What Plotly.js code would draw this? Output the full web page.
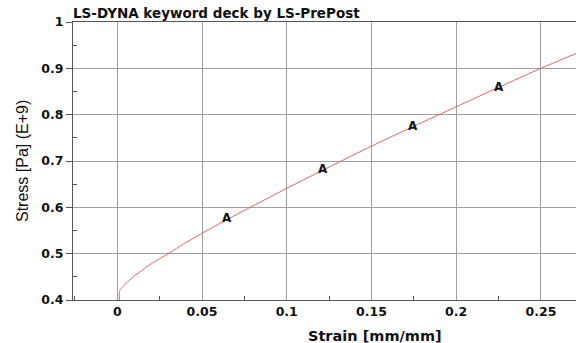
<!DOCTYPE html>
<html>
<head>
<meta charset="utf-8">
<script src="https://cdn.plot.ly/plotly-3.0.1.min.js"></script>
<style>html,body{margin:0;padding:0;background:#fff;}#chart{width:576px;height:343px;}</style>
</head>
<body>
<div id="chart"></div>
<script>
// Curve: strain [mm/mm] vs stress [Pa] (E+9)
const strain = [0.0012, 0.0012, 0.0016, 0.003, 0.005, 0.0094, 0.015, 0.02, 0.03, 0.04, 0.05, 0.065, 0.08, 0.1, 0.125, 0.15, 0.175, 0.2, 0.225, 0.25, 0.2707];
const stress = [0.400, 0.415, 0.422, 0.428, 0.435, 0.450, 0.465, 0.478, 0.500, 0.523, 0.544, 0.574, 0.603, 0.641, 0.687, 0.732, 0.775, 0.817, 0.859, 0.900, 0.932];

// "A" curve label positions
const labelStrain = [0.065, 0.1216, 0.1747, 0.2255];
const labelStress = [0.577, 0.683, 0.7756, 0.860];
const labelText = ["A", "A", "A", "A"];

const xTickVals = [0, 0.05, 0.1, 0.15, 0.2, 0.25];
const xTickText = ["0", "0.05", "0.1", "0.15", "0.2", "0.25"];
const yTickVals = [0.4, 0.5, 0.6, 0.7, 0.8, 0.9, 1];
const yTickText = ["0.4", "0.5", "0.6", "0.7", "0.8", "0.9", "1"];

const boldFont = {family: "DejaVu Sans", size: 12.5, color: "#111", weight: "bold"};

const trace = {
  x: strain, y: stress, type: "scatter", mode: "lines",
  line: {color: "rgb(222,100,100)", width: 1, shape: "spline", smoothing: 0.5},
  hoverinfo: "skip", showlegend: false
};

const annotations = labelText.map((t, i) => ({
  x: labelStrain[i], y: labelStress[i], xref: "x", yref: "y",
  text: "<b>" + t + "</b>", showarrow: false,
  font: {family: "DejaVu Sans", size: 12, color: "#111"}
}));

annotations.push({
  xref: "paper", yref: "paper", x: -0.1014, y: 0.5,
  text: "Stress [Pa] (E+9)", textangle: -90, showarrow: false,
  xanchor: "center", yanchor: "middle",
  font: {family: "Liberation Sans Narrow, Arial Narrow, Liberation Sans, Arial", size: 16, color: "#111"}
});
annotations.push({
  xref: "paper", yref: "paper", x: 0.6004, y: -0.1295,
  text: "<b>Strain [mm/mm]</b>", showarrow: false,
  xanchor: "center", yanchor: "middle",
  font: {family: "DejaVu Sans", size: 14.5, color: "#111"}
});

const layout = {
  width: 576, height: 343,
  margin: {l: 73, r: 0, t: 22, b: 43},
  paper_bgcolor: "#fff", plot_bgcolor: "#fff",
  title: {
    text: "<b>LS-DYNA keyword deck by LS-PrePost</b>",
    x: 73 / 576, xanchor: "left", xref: "container",
    y: 1 - 13 / 343, yanchor: "middle", yref: "container",
    font: {family: "DejaVu Sans", size: 13.5, color: "#111"}
  },
  xaxis: {
    range: [-0.02614, 0.2707], autorange: false,
    tickvals: xTickVals, ticktext: xTickText,
    tickfont: boldFont, ticks: "",
    showgrid: true, gridcolor: "#a0a0a0", gridwidth: 1,
    zeroline: false,
    showline: true, linecolor: "#555", linewidth: 1, mirror: true,
    minor: {dtick: 0.05, tick0: 0.025, ticks: "inside", ticklen: 4, tickcolor: "#555", showgrid: false}
  },
  yaxis: {
    range: [0.4, 1], autorange: false,
    tickvals: yTickVals, ticktext: yTickText,
    tickfont: boldFont, ticks: "outside", ticklen: 6, tickcolor: "#555",
    showgrid: true, gridcolor: "#a0a0a0", gridwidth: 1,
    zeroline: false,
    showline: true, linecolor: "#555", linewidth: 1,
    minor: {dtick: 0.1, tick0: 0.45, ticks: "inside", ticklen: 4, tickcolor: "#555", showgrid: false}
  },
  annotations: annotations
};

Plotly.newPlot("chart", [trace], layout, {displayModeBar: false, staticPlot: true});
</script>
</body>
</html>
